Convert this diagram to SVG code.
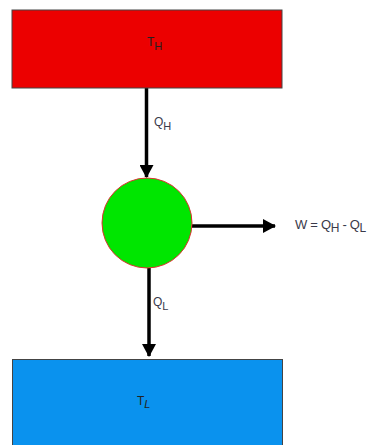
<svg xmlns="http://www.w3.org/2000/svg" width="377" height="445" viewBox="0 0 377 445">
<defs>
<style>
text{font-family:"Liberation Sans",Arial,sans-serif;font-size:12px;fill:#3a3a4a}
.sub{font-size:11px}
.edge{stroke:#000;stroke-width:3.5;fill:none}
.w{font-size:13px;letter-spacing:-0.3px}
.w .sub{font-size:12px}
</style>
<marker id="ah" markerWidth="14" markerHeight="14" refX="12" refY="7" orient="auto" markerUnits="userSpaceOnUse">
<path d="M0,0 L13,7 L0,14 Z" fill="#000"/>
</marker>
</defs>
<rect width="377" height="445" fill="#fff"/>
<g id="connectors">
<line class="edge" x1="146.5" y1="88" x2="146.5" y2="177" marker-end="url(#ah)"/>
<line class="edge" x1="192" y1="226" x2="275" y2="226" marker-end="url(#ah)"/>
<line class="edge" x1="149" y1="268" x2="149" y2="356" marker-end="url(#ah)"/>
<text x="154" y="126">Q<tspan class="sub" dy="4">H</tspan></text>
<text x="153" y="306">Q<tspan class="sub" dy="4">L</tspan></text>
<text class="w" x="295" y="229">W = Q<tspan class="sub" dy="3">H</tspan><tspan dy="-3"> - Q</tspan><tspan class="sub" dy="3">L</tspan></text>
</g>
<g id="hot">
<rect x="12" y="10" width="270" height="78" fill="#ec0000" stroke="#444" stroke-width="1"/>
<text x="147" y="46" style="fill:#222">T<tspan class="sub" dy="4">H</tspan></text>
</g>
<g id="engine">
<circle cx="147" cy="223" r="45" fill="#00e600" stroke="#e03030" stroke-width="1"/>
</g>
<g id="cold">
<rect x="12.5" y="359.5" width="270" height="90" fill="#0a92ee" stroke="#444" stroke-width="1"/>
<text x="137" y="405" style="fill:#222">T<tspan class="sub" dy="3" font-style="italic">L</tspan></text>
</g>
</svg>
